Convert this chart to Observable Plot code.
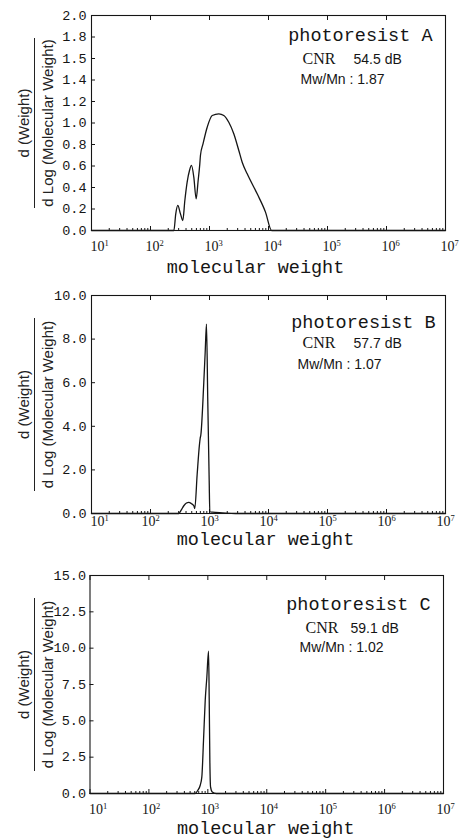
<!DOCTYPE html>
<html>
<head>
<meta charset="utf-8">
<script src="https://cdn.jsdelivr.net/npm/d3@7"></script>
<script src="https://cdn.jsdelivr.net/npm/@observablehq/plot@0.6"></script>
<style>
  body { margin: 0; background: #fff; }
  #chart { width: 460px; }
  #chart svg { display: block; }
</style>
</head>
<body>
<div id="chart"></div>
<script>
// ---------- data ----------
const panelNames = ["photoresist A", "photoresist B", "photoresist C"];
const cnrLabel = "CNR";
const cnrValues = ["54.5 dB", "57.7 dB", "59.1 dB"];
const ratioLabels = ["Mw/Mn : 1.87", "Mw/Mn : 1.07", "Mw/Mn : 1.02"];
const xTitle = "molecular weight";
const yTitleTop = "d (Weight)";
const yTitleBottom = "d Log (Molecular Weight)";

const decades = [1e1, 1e2, 1e3, 1e4, 1e5, 1e6, 1e7];
const minorMultipliers = [2, 3, 4, 5, 6, 7, 8, 9];

// photoresist A
const mwA = [10, 249, 268, 290, 322, 353, 382, 418, 458, 495, 542, 594, 642, 685, 703, 776, 914, 1112, 1439, 1746, 2123, 2580, 3139, 3581, 4355, 6430, 8892, 11300, 1e7];
const wA  = [0, 0, 0.155, 0.233, 0.155, 0.093, 0.279, 0.45, 0.558, 0.605, 0.496, 0.295, 0.465, 0.62, 0.70, 0.806, 0.961, 1.07, 1.085, 1.07, 1.007, 0.90, 0.744, 0.635, 0.527, 0.341, 0.171, 0, 0];
const yTicksA  = [0, 0.2, 0.4, 0.6, 0.8, 1.0, 1.2, 1.4, 1.6, 1.8, 2.0];
const yLabelsA = ["0.0", "0.2", "0.4", "0.6", "0.8", "1.0", "1.2", "1.4", "1.5", "1.8", "2.0"];

// photoresist B
const mwB = [10, 302, 331, 367, 407, 446, 490, 542, 563, 618, 677, 695, 713, 800, 845, 889, 935, 988, 1012, 1122, 1660, 2750, 1e7];
const wB  = [0, 0, 0.155, 0.355, 0.48, 0.51, 0.46, 0.355, 0.23, 1.8, 3.18, 3.45, 3.6, 6.0, 7.4, 8.69, 5.15, 1.5, 0.08, 0.06, 0.03, 0, 0];
const yTicksB  = [0, 2, 4, 6, 8, 10];
const yLabelsB = ["0.0", "2.0", "4.0", "6.0", "8.0", "10.0"];

// photoresist C
const mwC = [10, 610, 678, 743, 791, 845, 903, 962, 1028, 1056, 1082, 1112, 1188, 1387, 1e7];
const wC  = [0, 0, 0.23, 0.57, 1.14, 3.66, 6.41, 8.0, 9.8, 6.4, 2.29, 0.46, 0.11, 0, 0];
const yTicksC  = [0, 2.5, 5, 7.5, 10, 12.5, 15];
const yLabelsC = ["0.0", "2.5", "5.0", "7.5", "10.0", "12.5", "15.0"];

// ---------- drawing ----------
const minorTicks = decades.slice(0, -1).flatMap(d => minorMultipliers.map(k => k * d));
const INK = "#151515";
const MONO = "'Liberation Mono', 'DejaVu Sans Mono', monospace";
const SERIF = "'Liberation Serif', 'DejaVu Serif', serif";
const SANS = "'Liberation Sans', Arial, sans-serif";

function panel(cfg) {
  const data = cfg.mw.map((m, i) => ({mw: m, w: cfg.w[i]}));
  const yFmt = new Map(cfg.yTicks.map((t, i) => [t, cfg.yLabels[i]]));
  const ml = cfg.marginLeft, mr = cfg.marginRight, mt = 15, mb = cfg.marginBottom;
  const svg = Plot.plot({
    width: 460, height: cfg.height,
    marginTop: mt, marginRight: mr, marginBottom: mb, marginLeft: ml,
    x: {type: "log", domain: [10, 1e7]},
    y: {domain: [0, cfg.yTicks[cfg.yTicks.length - 1]]},
    style: {background: "#fff", color: INK},
    marks: [
      Plot.line(data, {x: "mw", y: "w", stroke: INK, strokeWidth: 1.3, curve: "monotone-x"}),
      Plot.frame({stroke: INK, strokeWidth: 1.1}),
      Plot.axisX({ticks: minorTicks, tickSize: 2, dy: -2, tickFormat: () => "", label: null, stroke: INK}),
      Plot.axisX({ticks: decades, tickSize: 4, dy: -4, tickFormat: () => "", label: null, stroke: INK}),
      Plot.axisX({anchor: "top", ticks: decades, tickSize: 4, dy: 4, tickFormat: () => "", label: null, stroke: INK}),
      Plot.axisX({ticks: decades, tickSize: 0, tickPadding: cfg.xTickPad,
        tickFormat: d => String(Math.round(Math.log10(d))), label: null,
        fontFamily: SERIF, fontSize: 14, fill: INK}),
      Plot.axisY({ticks: cfg.yTicks, tickSize: 4, dx: 4, tickFormat: () => "", label: null, stroke: INK}),
      Plot.axisY({ticks: cfg.yTicks, tickSize: 0, tickPadding: cfg.yTickPad,
        tickFormat: d => yFmt.get(d), label: null, fontFamily: MONO, fontSize: 13.5, fill: INK}),
      Plot.text([xTitle], {frameAnchor: "bottom", dy: cfg.xTitleDy, dx: cfg.xTitleDx, lineAnchor: "bottom",
        fontFamily: MONO, fontSize: 18.5, fill: INK}),
      Plot.text([yTitleTop], {frameAnchor: "left", dx: 24 - ml, rotate: -90, textAnchor: "middle",
        fontFamily: SANS, fontSize: 15, fill: "#222"}),
      Plot.text([yTitleBottom], {frameAnchor: "left", dx: 48 - ml, rotate: -90, textAnchor: "middle",
        fontFamily: SANS, fontSize: 15, fill: "#222"}),
      Plot.text([cfg.name], {frameAnchor: "top-right", dx: cfg.ann.nameDx, dy: cfg.ann.nameDy,
        textAnchor: "end", lineAnchor: "bottom", fontFamily: MONO, fontSize: 18.5, fill: INK}),
      Plot.text([cnrLabel], {frameAnchor: "top-right", dx: cfg.ann.cnrDx, dy: cfg.ann.cnrDy,
        textAnchor: "start", lineAnchor: "bottom", fontFamily: SERIF, fontSize: 16, fill: INK}),
      Plot.text([cfg.cnr], {frameAnchor: "top-right", dx: cfg.ann.dbDx, dy: cfg.ann.cnrDy,
        textAnchor: "start", lineAnchor: "bottom", fontFamily: SANS, fontSize: 14, fill: INK}),
      Plot.text([cfg.ratio], {frameAnchor: "top-right", dx: cfg.ann.ratioDx, dy: cfg.ann.ratioDy,
        textAnchor: "start", lineAnchor: "bottom", fontFamily: SANS, fontSize: 14, fill: INK})
    ]
  });
  const s = d3.select(svg);
  // superscript exponents on decade labels; "10" starts a little left of its tick
  let k = 0;
  s.selectAll('g[aria-label="x-axis tick label"] text').each(function () {
    const e = this.textContent;
    if (!e) return;
    const t = d3.select(this);
    const shift = e === "1" ? -1 : cfg.xLabelShift;
    t.attr("text-anchor", "start").attr("dx", shift);
    t.text("10");
    t.append("tspan").attr("dy", "-5").attr("font-size", 8.5).text(e);
    k++;
  });
  // fraction bar of the y title
  const plotBottom = cfg.height - mb;
  s.append("line")
    .attr("x1", 34.5).attr("x2", 34.5)
    .attr("y1", mt + 23).attr("y2", plotBottom - 22)
    .attr("stroke", "#222").attr("stroke-width", 1);
  return svg;
}

const root = document.getElementById("chart");
root.appendChild(panel({
  mw: mwA, w: wA, yTicks: yTicksA, yLabels: yLabelsA,
  name: panelNames[0], cnr: cnrValues[0], ratio: ratioLabels[0],
  height: 280, marginLeft: 91, marginRight: 15, marginBottom: 50,
  xTickPad: 11, xLabelShift: -5, yTickPad: 5, xTitleDy: 42, xTitleDx: -13,
  ann: {nameDx: -13, nameDy: 25, cnrDx: -143, dbDx: -92, cnrDy: 48, ratioDx: -145, ratioDy: 68}
}));
root.appendChild(panel({
  mw: mwB, w: wB, yTicks: yTicksB, yLabels: yLabelsB,
  name: panelNames[1], cnr: cnrValues[1], ratio: ratioLabels[1],
  height: 280, marginLeft: 91, marginRight: 15, marginBottom: 47,
  xTickPad: 3, xLabelShift: -9, yTickPad: 5, xTitleDy: 31, xTitleDx: -3,
  ann: {nameDx: -10, nameDy: 32, cnrDx: -143, dbDx: -92, cnrDy: 52, ratioDx: -148, ratioDy: 73}
}));
root.appendChild(panel({
  mw: mwC, w: wC, yTicks: yTicksC, yLabels: yLabelsC,
  name: panelNames[2], cnr: cnrValues[2], ratio: ratioLabels[2],
  height: 279, marginLeft: 89.5, marginRight: 17, marginBottom: 46,
  xTickPad: 11, xLabelShift: -7, yTickPad: 4, xTitleDy: 40, xTitleDx: -1,
  ann: {nameDx: -13, nameDy: 34, cnrDx: -138, dbDx: -93, cnrDy: 57, ratioDx: -144, ratioDy: 76}
}));
</script>
</body>
</html>
